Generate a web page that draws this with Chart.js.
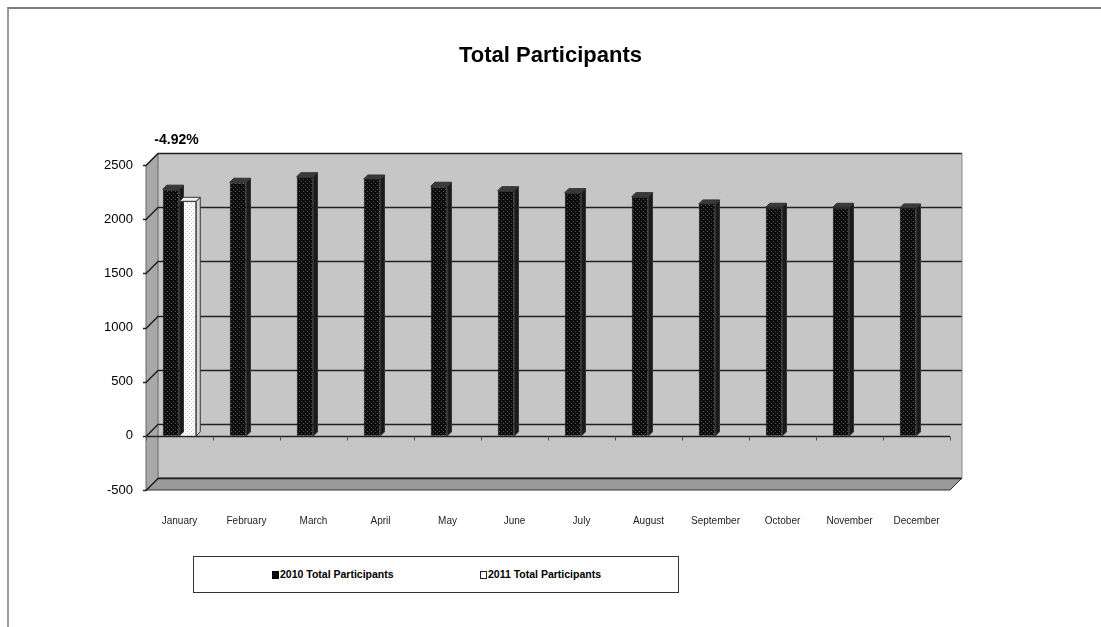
<!DOCTYPE html>
<html>
<head>
<meta charset="utf-8">
<script src="https://cdn.jsdelivr.net/npm/chart.js@4"></script>
<style>
  body { margin: 0; background: #fff; }
  #wrap { position: relative; width: 1101px; height: 627px; overflow: hidden; }
  #frame { position: absolute; left: 7px; top: 7px; right: -4px; bottom: -4px;
           border-top: 2px solid #7a7a7a; border-left: 2px solid #9a9a9a; }
  #legend { position: absolute; left: 193px; top: 556px; width: 484px; height: 35px;
            border: 1px solid #333; background: #fff;
            font: bold 10.5px "Liberation Sans", Arial, sans-serif; }
  .item { position: absolute; top: 11px; white-space: nowrap; }
  .sw { display: inline-block; width: 7px; height: 8px; margin-right: 1px; vertical-align: -1px; box-sizing: border-box; }
</style>
</head>
<body>
<div id="wrap">
  <canvas id="chart" width="1101" height="627"></canvas>
  <div id="frame"></div>
  <div id="legend"></div>
</div>
<script>
const months = ["January", "February", "March", "April", "May", "June",
                "July", "August", "September", "October", "November", "December"];
const total2010 = [2277, 2341, 2392, 2371, 2304, 2263, 2245, 2208, 2141, 2110, 2110, 2104];
const total2011 = [2165, null, null, null, null, null, null, null, null, null, null, null];
const seriesNames = ["2010 Total Participants", "2011 Total Participants"];
const yTicks = [-500, 0, 500, 1000, 1500, 2000, 2500];

const FONT = '"Liberation Sans", Arial, sans-serif';
const DX = 12, DY = -12;   // depth of the fake 3D box
const CAP = 4;             // depth of each bar

function dotPattern(bg, dot) {
    const c = document.createElement("canvas");
    c.width = 4; c.height = 4;
    const g = c.getContext("2d");
    g.fillStyle = bg; g.fillRect(0, 0, 4, 4);
    g.fillStyle = dot; g.fillRect(1, 1, 1, 1); g.fillRect(3, 3, 1, 1);
    return g.createPattern(c, "repeat");
}

// walls, floor and gridlines drawn behind the bars
const box3d = {
    id: "box3d",
    beforeDatasetsDraw(chart) {
        const { ctx, chartArea: a, scales } = chart;
        const y = scales.y;
        ctx.save();
        // back wall
        ctx.fillStyle = "#c6c6c6";
        ctx.fillRect(a.left + DX, a.top + DY, a.right - a.left, a.bottom - a.top);
        // side wall
        ctx.fillStyle = "#a8a8a8";
        ctx.beginPath();
        ctx.moveTo(a.left, a.top); ctx.lineTo(a.left + DX, a.top + DY);
        ctx.lineTo(a.left + DX, a.bottom + DY); ctx.lineTo(a.left, a.bottom);
        ctx.closePath(); ctx.fill();
        ctx.strokeStyle = "#666"; ctx.lineWidth = 1; ctx.stroke();
        // floor
        ctx.fillStyle = "#9a9a9a";
        ctx.beginPath();
        ctx.moveTo(a.left, a.bottom); ctx.lineTo(a.left + DX, a.bottom + DY);
        ctx.lineTo(a.right + DX, a.bottom + DY); ctx.lineTo(a.right, a.bottom);
        ctx.closePath(); ctx.fill();
        ctx.strokeStyle = "#333"; ctx.stroke();
        // gridlines on back and side wall
        ctx.strokeStyle = "#222"; ctx.lineWidth = 1.5;
        y.ticks.forEach(t => {
            const py = Math.round(y.getPixelForValue(t.value)) + 0.5;
            ctx.beginPath();
            ctx.moveTo(a.left - 3, py); ctx.lineTo(a.left, py);
            ctx.lineTo(a.left + DX, py + DY); ctx.lineTo(a.right + DX, py + DY);
            ctx.stroke();
        });
        // right edge of the back wall
        ctx.beginPath();
        ctx.moveTo(a.right + DX, a.top + DY); ctx.lineTo(a.right + DX, a.bottom + DY);
        ctx.lineWidth = 1; ctx.strokeStyle = "#888"; ctx.stroke();
        // category axis at zero
        const p0 = Math.round(y.getPixelForValue(0)) + 0.5;
        ctx.strokeStyle = "#222"; ctx.lineWidth = 1.5;
        ctx.beginPath(); ctx.moveTo(a.left, p0); ctx.lineTo(a.right, p0); ctx.stroke();
        ctx.lineWidth = 1; ctx.strokeStyle = "#555";
        for (let i = 0; i <= months.length; i++) {
            const px = Math.round(a.left + (a.right - a.left) * i / months.length) + 0.5;
            ctx.beginPath(); ctx.moveTo(px, p0); ctx.lineTo(px, p0 + 4); ctx.stroke();
        }
        ctx.restore();
    },
    afterDatasetsDraw(chart) {
        const ctx = chart.ctx;
        ctx.save();
        chart.data.datasets.forEach((ds, i) => {
            const meta = chart.getDatasetMeta(i);
            meta.data.forEach((bar, j) => {
                if (ds.data[j] == null) return;
                const p = bar.getProps(["x", "y", "base", "width"], true);
                const l = p.x - p.width / 2, r = p.x + p.width / 2;
                // right side
                ctx.fillStyle = i === 0 ? "#1a1a1a" : "#d8d8d8";
                ctx.beginPath();
                ctx.moveTo(r, p.y); ctx.lineTo(r + CAP, p.y - CAP);
                ctx.lineTo(r + CAP, p.base - CAP); ctx.lineTo(r, p.base);
                ctx.closePath(); ctx.fill();
                ctx.strokeStyle = "#333"; ctx.lineWidth = 1; ctx.stroke();
                // top
                ctx.fillStyle = i === 0 ? "#3a3a3a" : "#f2f2f2";
                ctx.beginPath();
                ctx.moveTo(l, p.y); ctx.lineTo(l + CAP, p.y - CAP);
                ctx.lineTo(r + CAP, p.y - CAP); ctx.lineTo(r, p.y);
                ctx.closePath(); ctx.fill(); ctx.stroke();
            });
        });
        // change label over the first month
        const pct = (total2011[0] - total2010[0]) / total2010[0] * 100;
        ctx.font = "bold 14px " + FONT;
        ctx.fillStyle = "#000";
        ctx.textAlign = "center";
        ctx.textBaseline = "middle";
        ctx.fillText(pct.toFixed(2) + "%", chart.scales.x.getPixelForValue(0) - 3,
                     chart.chartArea.top - 25);
        ctx.restore();
    }
};

const ctx = document.getElementById("chart").getContext("2d");
new Chart(ctx, {
    type: "bar",
    data: {
        labels: months,
        datasets: [{
            label: seriesNames[0],
            data: total2010,
            backgroundColor: dotPattern("#0c0c0c", "#555"),
            borderColor: "#111",
            borderWidth: 1
        }, {
            label: seriesNames[1],
            data: total2011,
            backgroundColor: dotPattern("#ffffff", "#bbb"),
            borderColor: "#444",
            borderWidth: 1
        }]
    },
    options: {
        responsive: false,
        animation: false,
        layout: { padding: { left: 0, right: 0, top: 0, bottom: 87 } },
        datasets: { bar: { categoryPercentage: 0.5, barPercentage: 1 } },
        plugins: {
            legend: { display: false },
            tooltip: { enabled: false },
            title: {
                display: true,
                text: "Total Participants",
                color: "#000",
                font: { family: FONT, size: 22, weight: "bold" },
                padding: { top: 43, bottom: 95.6 }
            }
        },
        scales: {
            x: {
                grid: { display: false },
                border: { display: false },
                ticks: {
                    color: "#222",
                    font: { family: FONT, size: 10 },
                    padding: 17,
                    autoSkip: false,
                    maxRotation: 0
                },
                afterFit(s) { s.height = 50; }
            },
            y: {
                min: yTicks[0],
                max: yTicks[yTicks.length - 1],
                afterBuildTicks(s) { s.ticks = yTicks.map(v => ({ value: v })); },
                grid: { display: false },
                border: { display: false },
                ticks: {
                    color: "#000",
                    font: { family: FONT, size: 13 },
                    padding: 5,
                    callback: v => String(v)
                },
                afterFit(s) { s.width = 146; }
            },
            // empty axis that keeps the right margin free
            yRight: {
                position: "right",
                grid: { display: false },
                border: { display: false },
                ticks: { display: false },
                afterFit(s) { s.width = 151; }
            }
        }
    },
    plugins: [box3d]
});

// legend box
const legend = document.getElementById("legend");
const swatches = [
    "background:#0c0c0c;border:1px solid #000",
    "background:#fff;border:1px solid #222"
];
const legendX = [78, 286];
seriesNames.forEach((name, i) => {
    const d = document.createElement("div");
    d.className = "item";
    d.style.left = legendX[i] + "px";
    d.innerHTML = '<span class="sw" style="' + swatches[i] + '"></span>' + name;
    legend.appendChild(d);
});
</script>
</body>
</html>
